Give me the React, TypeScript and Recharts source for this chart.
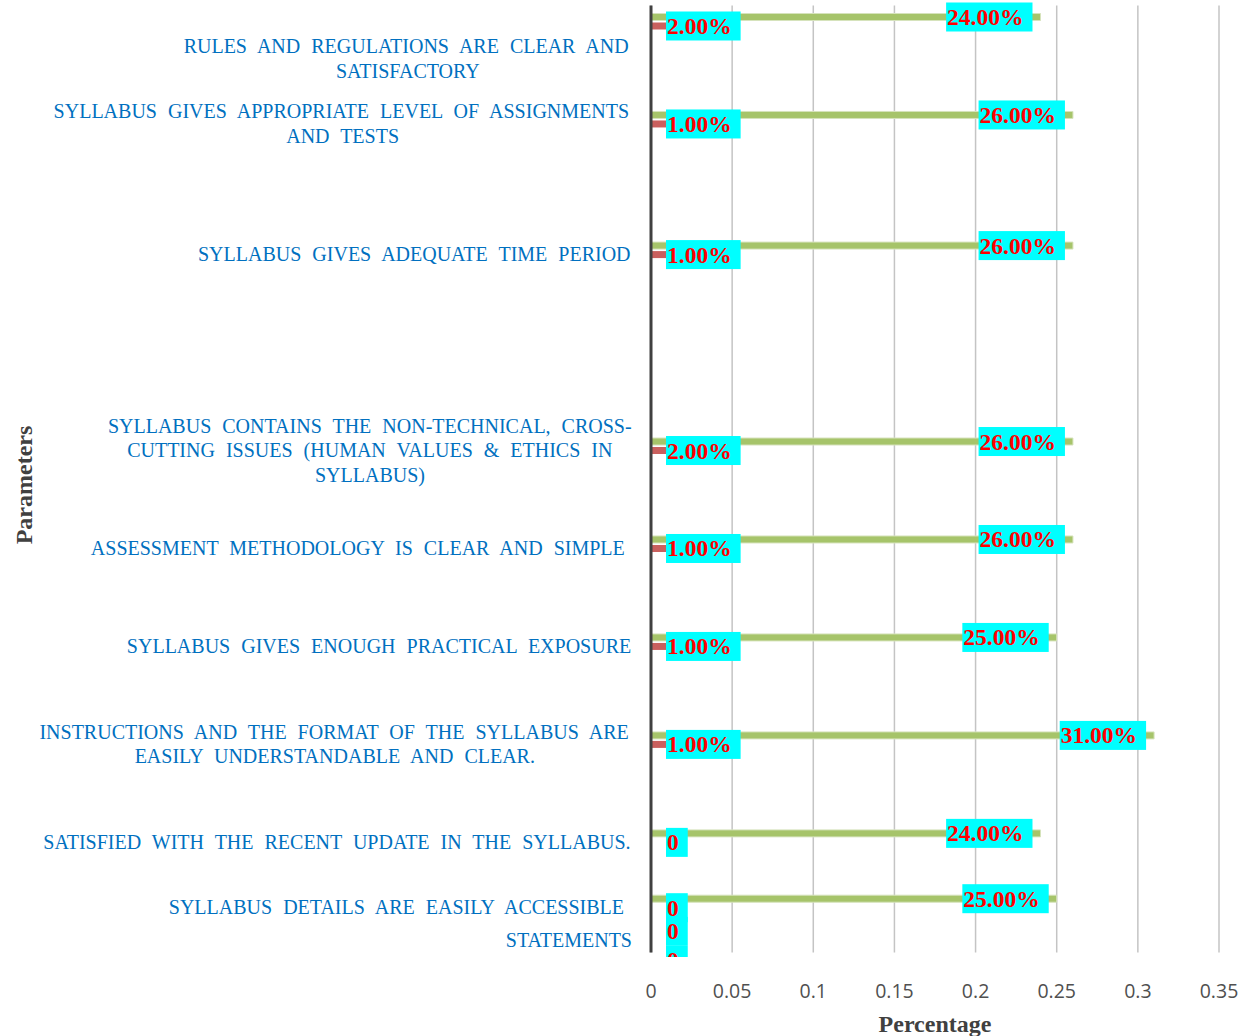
import { BarChart, Bar, XAxis, YAxis, CartesianGrid, LabelList } from "recharts";

// category slots (blank strings are the empty rows of the sheet)
const categories = [
  "RULES AND REGULATIONS ARE CLEAR AND\nSATISFACTORY",
  "",
  "",
  "SYLLABUS GIVES APPROPRIATE LEVEL OF ASSIGNMENTS\nAND TESTS",
  "",
  "",
  "",
  "SYLLABUS GIVES ADEQUATE TIME PERIOD",
  "",
  "",
  "",
  "",
  "",
  "SYLLABUS CONTAINS THE NON-TECHNICAL, CROSS-\nCUTTING ISSUES (HUMAN VALUES & ETHICS IN\nSYLLABUS)",
  "",
  "",
  "ASSESSMENT METHODOLOGY IS CLEAR AND SIMPLE ",
  "",
  "",
  "SYLLABUS GIVES ENOUGH PRACTICAL EXPOSURE",
  "",
  "",
  "INSTRUCTIONS AND THE FORMAT OF THE SYLLABUS ARE\nEASILY UNDERSTANDABLE AND CLEAR.",
  "",
  "",
  "SATISFIED WITH THE RECENT UPDATE IN THE SYLLABUS.",
  "",
  "SYLLABUS DETAILS ARE EASILY ACCESSIBLE ",
  "STATEMENTS",
];

const agreeValues = [
  0.24, null, null, 0.26, null, null, null, 0.26, null, null, null, null, null,
  0.26, null, null, 0.26, null, null, 0.25, null, null, 0.31, null, null, 0.24,
  null, 0.25, 0,
];

const disagreeValues = [
  0.02, null, null, 0.01, null, null, null, 0.01, null, null, null, null, null,
  0.02, null, null, 0.01, null, null, 0.01, null, null, 0.01, null, null, 0,
  null, 0, 0,
];

const xTicks = [0, 0.05, 0.1, 0.15, 0.2, 0.25, 0.3, 0.35];

const rows = categories.map((name, i) => ({
  slot: i,
  name,
  agree: agreeValues[i],
  disagree: disagreeValues[i],
}));

const SERIF = "'Liberation Serif', 'Times New Roman', serif";
const LABEL_FONT = `bold 23.5px ${SERIF}`;
const TICK_FONT = `20px ${SERIF}`;
const WORD_SPACE = 6;
const PLOT_CLIP = 957;

const ctx = document.createElement("canvas").getContext("2d")!;
const measure = (s: string, font: string) => {
  ctx.font = font;
  return ctx.measureText(s).width;
};

const fmt = (v: number) => (v === 0 ? "0" : `${(v * 100).toFixed(2)}%`);

// a zero value still needs a (hair-thin) bar so its "0" label is drawn
const zeroSize = (v: any) => (v === 0 ? 0.01 : 0);

const CategoryTick = (props: any) => {
  const { y, payload } = props;
  const text: string = categories[payload.value] || "";
  if (!text) return null;
  const lines = text.split("\n");
  const widths = lines.map(
    (l) =>
      measure(l, TICK_FONT) + (l.trimEnd().split(" ").length - 1) * WORD_SPACE
  );
  const blockW = Math.max(...widths);
  const center = 632 - blockW / 2;
  const shift = payload.value === 0 ? 33 : 0;
  const mid = y + 4.2 + shift;
  return (
    <g>
      {lines.map((l, i) => (
        <text
          key={i}
          x={center - widths[i] / 2}
          y={mid + (i - (lines.length - 1) / 2) * 24.5 + 6.6}
          fill="#0070C0"
          fontFamily={SERIF}
          fontSize={20}
          style={{ wordSpacing: WORD_SPACE }}
        >
          {l.trimEnd()}
        </text>
      ))}
    </g>
  );
};

// label receives the whole row, so it can see the other series too
const DataLabel = (props: any, key: "agree" | "disagree") => {
  const row = props.value;
  if (!row || row[key] === null || row[key] === undefined) return null;
  const value: number = row[key];
  const vb = props.viewBox || props;
  const x = vb.x;
  const w = vb.width || 0;
  let cy = vb.y + vb.height / 2;
  // both zero labels sit at the base: the second one is pushed below the first
  if (key === "disagree" && value === 0 && row.agree === 0) cy += 20;
  const str = fmt(value);
  const tw = measure(str, LABEL_FONT);
  const boxW = tw + 10;
  const left = key === "agree" && value !== 0 ? x + w - 8 - boxW : 666;
  return (
    <svg x={0} y={0} width={1251} height={PLOT_CLIP} overflow="hidden">
      <rect x={left} y={cy - 14.5} width={boxW} height={29} fill="#00FFFF" />
      <text
        x={left + 1}
        y={cy + 8}
        fill="#FF0000"
        fontFamily={SERIF}
        fontWeight="bold"
        fontSize={23.5}
      >
        {str}
      </text>
    </svg>
  );
};

const ParamLabel = () => (
  <text
    transform="translate(32,485) rotate(-90)"
    textAnchor="middle"
    fill="#404040"
    fontFamily={SERIF}
    fontWeight="bold"
    fontSize={24}
  >
    Parameters
  </text>
);

const PercentLabel = () => (
  <text
    x={935}
    y={1032}
    textAnchor="middle"
    fill="#404040"
    fontFamily={SERIF}
    fontWeight="bold"
    fontSize={24}
  >
    Percentage
  </text>
);

const rowOf = (r: any) => r;

export default function App() {
  return (
    <div style={{ position: "absolute", left: 0, top: 0, background: "#fff" }}>
      <BarChart
        width={1251}
        height={1036}
        data={rows}
        layout="vertical"
        margin={{ top: 5.5, right: 32, bottom: 0, left: 0 }}
        barSize={7}
        barGap={2}
      >
        <CartesianGrid horizontal={false} stroke="#c4c4c4" strokeWidth={1.5} />
        <XAxis
          type="number"
          domain={[0, 0.35]}
          ticks={xTicks}
          interval={0}
          axisLine={false}
          tickLine={false}
          tickSize={0}
          tickMargin={31.5}
          height={83.5}
          tick={{ fontFamily: "'Open Sans', sans-serif", fontSize: 19.5, fill: "#505050" }}
          label={<PercentLabel />}
        />
        <YAxis
          type="category"
          dataKey="slot"
          width={651}
          interval={0}
          tickLine={false}
          axisLine={{ stroke: "#404040", strokeWidth: 3 }}
          tick={<CategoryTick />}
          label={<ParamLabel />}
        />
        <Bar
          dataKey="agree"
          fill="#a6c46a"
          stroke="#d6e3bc"
          strokeWidth={1}
          minPointSize={zeroSize}
          isAnimationActive={false}
        >
          <LabelList dataKey={rowOf} content={(p: any) => DataLabel(p, "agree")} />
        </Bar>
        <Bar
          dataKey="disagree"
          fill="#c9605e"
          minPointSize={zeroSize}
          isAnimationActive={false}
        >
          <LabelList dataKey={rowOf} content={(p: any) => DataLabel(p, "disagree")} />
        </Bar>
      </BarChart>
    </div>
  );
}
